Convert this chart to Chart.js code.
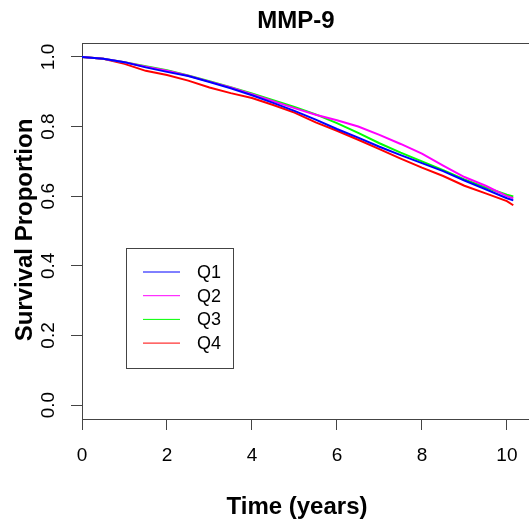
<!DOCTYPE html>
<html>
<head>
<meta charset="utf-8">
<script src="https://cdn.jsdelivr.net/npm/chart.js@4.4.1/dist/chart.umd.min.js"></script>
<style>
  html, body { margin: 0; padding: 0; background: #fff; }
  #wrap { width: 529px; height: 526px; position: relative; }
</style>
</head>
<body>
<div id="wrap"><canvas id="km"></canvas></div>
<script>
// time points (years) where the curves were read
const times = [0, 0.5, 1, 1.5, 2, 2.5, 3, 3.5, 4, 4.5, 5, 5.5, 6, 6.5, 7, 7.5, 8, 8.5, 9, 9.5, 10, 10.15];

// survival proportion per quartile
const q1 = [1.0, 0.995, 0.985, 0.970, 0.957, 0.945, 0.928, 0.910, 0.890, 0.868, 0.845, 0.820, 0.793, 0.768, 0.742, 0.718, 0.695, 0.672, 0.645, 0.620, 0.594, 0.588];
const q2 = [1.0, 0.995, 0.985, 0.972, 0.960, 0.946, 0.929, 0.912, 0.893, 0.873, 0.853, 0.834, 0.818, 0.800, 0.776, 0.750, 0.722, 0.688, 0.655, 0.630, 0.600, 0.594];
const q3 = [1.0, 0.995, 0.985, 0.973, 0.962, 0.947, 0.930, 0.913, 0.895, 0.876, 0.856, 0.835, 0.810, 0.782, 0.752, 0.725, 0.700, 0.675, 0.648, 0.625, 0.604, 0.599];
const q4 = [1.0, 0.995, 0.980, 0.960, 0.948, 0.932, 0.912, 0.896, 0.882, 0.862, 0.840, 0.812, 0.788, 0.762, 0.735, 0.708, 0.682, 0.658, 0.630, 0.608, 0.586, 0.574];

const seriesNames = ["Q1", "Q2", "Q3", "Q4"];
const seriesColors = ["#0000ff", "#ff00ff", "#00ff00", "#ff0000"];

const xTicks = [0, 2, 4, 6, 8, 10];
const yTicks = [0, 0.2, 0.4, 0.6, 0.8, 1.0];

const toPts = arr => arr.map((v, i) => ({ x: times[i], y: v }));

// R-style extras: title, axis titles, rotated y labels, legend box, top border
const rDecor = {
  id: "rDecor",
  afterDraw(chart) {
    const ctx = chart.ctx;
    const a = chart.chartArea;
    const ys = chart.scales.y;
    ctx.save();
    ctx.fillStyle = "#000";
    ctx.textAlign = "center";
    ctx.textBaseline = "middle";

    ctx.font = "bold 24px 'Liberation Sans', Arial, sans-serif";
    ctx.fillText("MMP-9", 296, 21);
    ctx.fillText("Time (years)", 297, 507);

    ctx.save();
    ctx.translate(25, 230);
    ctx.rotate(-Math.PI / 2);
    ctx.fillText("Survival Proportion", 0, 0);
    ctx.restore();

    ctx.font = "19px 'Liberation Sans', Arial, sans-serif";
    yTicks.forEach(v => {
      ctx.save();
      ctx.translate(49, ys.getPixelForValue(v));
      ctx.rotate(-Math.PI / 2);
      ctx.fillText(v.toFixed(1), 0, 0);
      ctx.restore();
    });

    // top border of the box
    ctx.strokeStyle = "#444";
    ctx.lineWidth = 1;
    ctx.beginPath();
    ctx.moveTo(a.left, a.top + 0.5);
    ctx.lineTo(a.right, a.top + 0.5);
    ctx.stroke();

    // legend
    ctx.strokeStyle = "#444";
    ctx.strokeRect(126.5, 248.5, 107, 120);
    ctx.font = "18px 'Liberation Sans', Arial, sans-serif";
    ctx.textAlign = "left";
    chart.data.datasets.forEach((ds, i) => {
      const y = 272 + i * 23.7;
      ctx.strokeStyle = ds.borderColor;
      ctx.lineWidth = 1;
      ctx.beginPath();
      ctx.moveTo(143, y);
      ctx.lineTo(180, y);
      ctx.stroke();
      ctx.fillText(ds.label, 197, y + 1);
    });
    ctx.restore();
  }
};

new Chart(document.getElementById("km"), {
  type: "line",
  data: {
    datasets: [q1, q2, q3, q4].map((arr, i) => ({
      label: seriesNames[i],
      data: toPts(arr),
      borderColor: seriesColors[i],
      borderWidth: 2,
      pointRadius: 0,
      tension: 0
    }))
  },
  options: {
    responsive: true,
    maintainAspectRatio: false,
    animation: false,
    layout: { padding: { top: 43, left: 0, right: 0, bottom: 0 } },
    plugins: { legend: { display: false }, tooltip: { enabled: false } },
    scales: {
      x: {
        type: "linear",
        min: 0,
        max: 10.52,
        afterBuildTicks: s => { s.ticks = xTicks.map(v => ({ value: v })); },
        afterFit: s => { s.height = 107; s.paddingLeft = 0; s.paddingRight = 0; },
        grid: { drawOnChartArea: false, drawTicks: true, tickLength: 11, color: "#444" },
        border: { display: true, color: "#444", width: 1 },
        ticks: {
          color: "#000",
          padding: 14,
          maxRotation: 0,
          font: { family: "'Liberation Sans', Arial, sans-serif", size: 19 }
        }
      },
      y: {
        type: "linear",
        min: -0.04,
        max: 1.04,
        afterBuildTicks: s => { s.ticks = yTicks.map(v => ({ value: v })); },
        afterFit: s => { s.width = 82; },
        grid: { drawOnChartArea: false, drawTicks: true, tickLength: 11, color: "#444" },
        border: { display: true, color: "#444", width: 1 },
        ticks: { display: false }
      }
    }
  },
  plugins: [rDecor]
});
</script>
</body>
</html>
